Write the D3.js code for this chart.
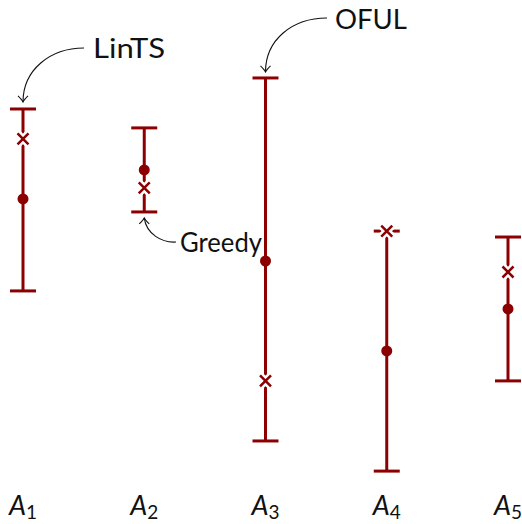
<!DOCTYPE html>
<html>
<head>
<meta charset="utf-8">
<script src="https://cdn.jsdelivr.net/npm/d3@7"></script>
<style>
  html, body { margin: 0; padding: 0; background: #fff; }
  svg { display: block; }
  text { font-family: Lato, "DejaVu Sans", sans-serif; fill: #111; }
</style>
</head>
<body>
<svg id="chart" width="522" height="524"></svg>
<script>
// Arms and their confidence intervals
const arms = ["1", "2", "3", "4", "5"];
const upper = [16.91, 16.05, 18.32, 11.36, 11.09];
const lower = [8.64, 12.23, 1.82, 0.45, 4.55];
const estimate = [12.82, 14.14, 10.0, 5.91, 7.82];   // filled dot
const sampled = [15.55, 13.32, 4.55, 11.36, 9.5];    // cross marker

const color = "#8b0000";
const svg = d3.select("#chart");

const x = d3.scalePoint().domain(arms).range([23, 508]);
const y = d3.scaleLinear().domain([0, 20]).range([481, 41]);

const capHalf = 13;
const data = arms.map((a, i) => ({ a, hi: upper[i], lo: lower[i], est: estimate[i], s: sampled[i] }));

const g = svg.append("g");

// vertical interval lines
g.selectAll("line.bar").data(data).join("line")
  .attr("x1", d => x(d.a)).attr("x2", d => x(d.a))
  .attr("y1", d => y(d.hi)).attr("y2", d => y(d.lo))
  .attr("stroke", color).attr("stroke-width", 3);

// caps
["hi", "lo"].forEach(k => {
  g.selectAll("line.cap-" + k).data(data).join("line")
    .attr("x1", d => x(d.a) - capHalf).attr("x2", d => x(d.a) + capHalf)
    .attr("y1", d => y(d[k])).attr("y2", d => y(d[k]))
    .attr("stroke", color).attr("stroke-width", 3);
});

// estimate dots
g.selectAll("circle.est").data(data).join("circle")
  .attr("cx", d => x(d.a)).attr("cy", d => y(d.est)).attr("r", 5.5)
  .attr("fill", color);

// sampled crosses with a white halo
const cross = d => {
  const cx = x(d.a), cy = y(d.s), r = 5.5;
  return `M${cx - r},${cy - r}L${cx + r},${cy + r}M${cx - r},${cy + r}L${cx + r},${cy - r}`;
};
g.selectAll("path.halo").data(data).join("path")
  .attr("d", cross).attr("stroke", "#fff").attr("stroke-width", 7.5).attr("fill", "none");
g.selectAll("path.cross").data(data).join("path")
  .attr("d", cross).attr("stroke", color).attr("stroke-width", 2.5).attr("fill", "none");

// category labels A_i
const labels = svg.selectAll("text.cat").data(arms).join("text")
  .attr("x", d => x(d)).attr("y", 515)
  .attr("text-anchor", "middle")
  .style("font-size", "27px");
labels.append("tspan").style("font-style", "italic").text("A");
labels.append("tspan").attr("dy", 4).style("font-size", "19px").text(d => d);

// annotations with curved arrows
function arrowHead(tx, ty) {
  return `M${tx - 5},${ty - 6}Q${tx - 1},${ty - 2} ${tx},${ty}Q${tx + 1},${ty - 2} ${tx + 5},${ty - 6}`;
}
function arrowHeadUp(tx, ty) {
  return `M${tx - 5},${ty + 6}Q${tx - 1},${ty + 2} ${tx},${ty}Q${tx + 1},${ty + 2} ${tx + 5},${ty + 6}`;
}
const ann = svg.append("g").attr("fill", "none").attr("stroke", "#111").attr("stroke-width", 1.1);

function note(tx, ty, str, len) {
  svg.append("text").attr("x", tx).attr("y", ty)
    .attr("textLength", len).attr("lengthAdjust", "spacingAndGlyphs")
    .style("font-size", "27px").text(str);
}

// LinTS -> arm 1 upper cap
const l1x = x("1"), l1y = y(upper[0]) - 7;
ann.append("path").attr("d", `M84,48C50,48 ${l1x},70 ${l1x},${l1y}`);
ann.append("path").attr("d", arrowHead(l1x, l1y));
note(93, 58, "LinTS", 72);

// OFUL -> arm 3 upper cap
const l3x = x("3"), l3y = y(upper[2]) - 6;
ann.append("path").attr("d", `M327,18C292,18 ${l3x},40 ${l3x},${l3y}`);
ann.append("path").attr("d", arrowHead(l3x, l3y));
note(335, 29, "OFUL", 72);

// Greedy -> arm 2 lower cap
const l2x = x("2"), l2y = y(lower[1]) + 6;
ann.append("path").attr("d", `M176,242C162,243 ${l2x + 2},234 ${l2x},${l2y}`);
ann.append("path").attr("d", arrowHeadUp(l2x, l2y));
note(180, 252, "Greedy", 82);
</script>
</body>
</html>
